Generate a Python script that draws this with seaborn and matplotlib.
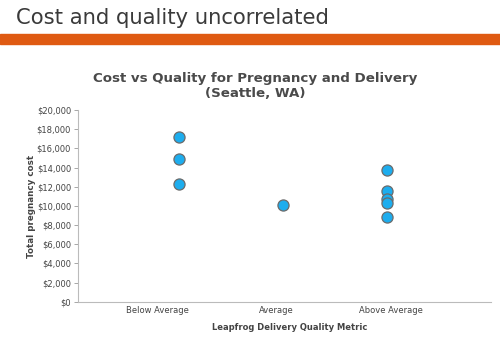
import pandas as pd
import numpy as np
import matplotlib.pyplot as plt
import seaborn as sns
from matplotlib.ticker import FuncFormatter

sns.set_style('white')
plt.rcParams['font.family'] = ['DejaVu Sans']

# Data
categories = ['Below Average', 'Average', 'Above Average']
quality = ['Below Average'] * 3 + ['Average'] + ['Above Average'] * 5
cost = [17200, 14850, 12300, 10100, 13800, 11600, 10700, 10350, 8850]
yticks = list(range(0, 20001, 2000))

df = pd.DataFrame({'Quality': quality, 'Cost': cost})

fig = plt.figure(figsize=(5, 3.53), dpi=100)

# slide header
fig.text(0.032, 0.948, 'Cost and quality uncorrelated', fontsize=15.2,
         color='#3a3a3a', va='center', ha='left')
fig.patches.append(plt.Rectangle((0, 0.876), 1, 0.027, transform=fig.transFigure,
                                 color='#DF5A12', zorder=0))

ax = fig.add_axes([0.156, 0.145, 0.826, 0.543])
sns.stripplot(data=df, x='Quality', y='Cost', order=categories, jitter=False,
              color='#1DADEE', size=8, edgecolor='#6b6b6b', linewidth=0.9, ax=ax)

ax.set_ylim(0, 20000)
ax.set_xlim(-0.975, 3.0)
ax.set_yticks(yticks)
ax.yaxis.set_major_formatter(FuncFormatter(lambda v, p: '${:,.0f}'.format(v)))
# category labels sit slightly off the point columns, as in the original
ax.set_xticks([-0.215, 0.935, 2.04])
ax.set_xticklabels(categories)
ax.tick_params(axis='y', labelsize=6, length=3, width=0.6, left=True, pad=2,
               color='#999999')
ax.tick_params(axis='x', labelsize=6, length=0, pad=3)
for lab in ax.get_yticklabels() + ax.get_xticklabels():
    lab.set_color('#444444')

for s in ['top', 'right']:
    ax.spines[s].set_visible(False)
for s in ['left', 'bottom']:
    ax.spines[s].set_color('#bbbbbb')
    ax.spines[s].set_linewidth(0.8)

ax.set_xlabel('Leapfrog Delivery Quality Metric', fontsize=6, fontweight='bold',
              color='#444444')
ax.xaxis.set_label_coords(0.513, -0.108)
ax.set_ylabel('Total pregnancy cost', fontsize=6.3, fontweight='bold',
              color='#444444', labelpad=0.5)

fig.text(0.51, 0.755, 'Cost vs Quality for Pregnancy and Delivery\n(Seattle, WA)',
         fontsize=9.6, fontweight='bold', color='#4a4a4a', ha='center', va='center',
         linespacing=1.2)

plt.savefig('out.png', dpi=100)
